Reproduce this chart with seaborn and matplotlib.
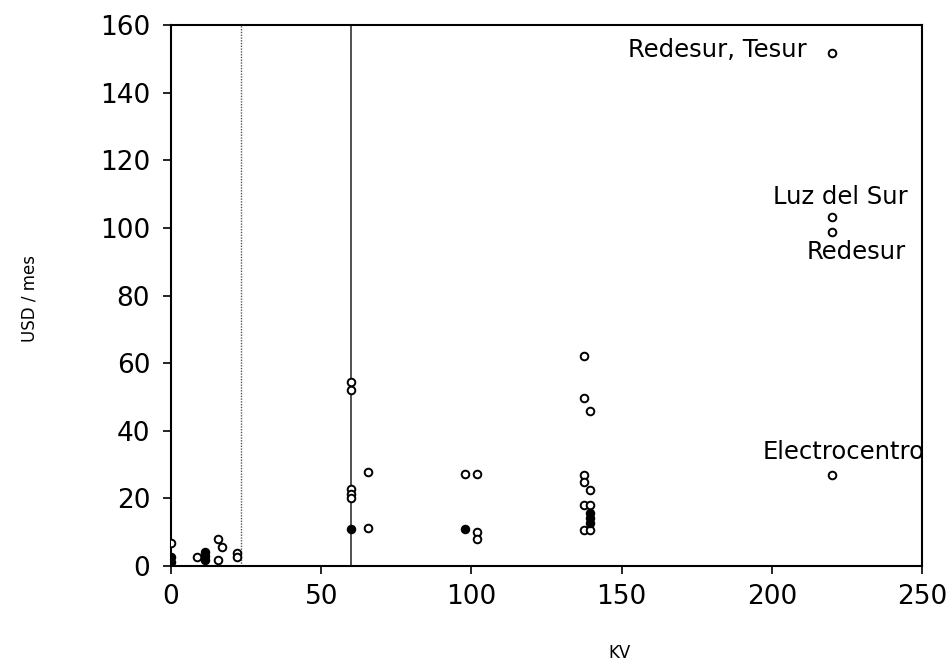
import pandas as pd
import matplotlib.pyplot as plt
import seaborn as sns

# puntos huecos (kV, USD/mes)
kv_hueco = [0, 8.7, 15.6, 15.6, 17, 22, 22,
            60, 60, 60, 60, 60, 65.5, 65.5,
            98, 102, 102, 102,
            137.5, 137.5, 139.5, 137.5, 137.5, 139.5, 137.5, 139.5, 137.5, 139.5,
            220, 220, 220, 220]
usd_hueco = [6.8, 2.7, 8.0, 1.8, 5.6, 3.8, 2.7,
             54.4, 52.1, 22.8, 21.2, 20.0, 27.8, 11.2,
             27.2, 27.2, 10.2, 8.0,
             62.2, 49.6, 45.9, 27.0, 24.7, 22.6, 18.1, 18.1, 10.6, 10.6,
             151.6, 103.3, 98.8, 27.0]

# puntos rellenos (superpuestos)
kv_lleno = [0, 0, 11.3, 11.3, 11.3, 60, 98, 139.5, 139.5, 139.5]
usd_lleno = [2.7, 1.2, 4.1, 3.0, 1.8, 10.8, 10.9, 15.8, 14.2, 12.6]

umbrales = [23.3, 60]

etiquetas = ["Redesur, Tesur", "Luz del Sur", "Redesur", "Electrocentro"]
etiq_kv = [211.5, 200.5, 211.5, 197]
etiq_usd = [152.5, 109.2, 92.8, 33.7]
etiq_ha = ["right", "left", "left", "left"]

df_h = pd.DataFrame({"KV": kv_hueco, "USD": usd_hueco})
df_l = pd.DataFrame({"KV": kv_lleno, "USD": usd_lleno})

sns.set_style("ticks")
plt.rcParams["font.family"] = ["DejaVu Sans"]
plt.rcParams["text.color"] = "black"
plt.rcParams["xtick.color"] = "black"
plt.rcParams["ytick.color"] = "black"

fig = plt.figure(figsize=(9.52, 6.62), dpi=100)
ax = fig.add_axes([171 / 952, 1 - 566 / 662, (922 - 171) / 952, (566 - 25) / 662])

ax.axvline(umbrales[0], color="#555555", linewidth=1.0, linestyle=(0, (1, 1)))
ax.axvline(umbrales[1], color="#222222", linewidth=1.1)

sns.scatterplot(data=df_h, x="KV", y="USD", ax=ax, marker="o", s=30,
                facecolor="white", edgecolor="black", linewidth=1.4, zorder=3)
sns.scatterplot(data=df_l, x="KV", y="USD", ax=ax, marker="o", s=34,
                color="black", edgecolor="black", linewidth=1.0, zorder=4)

for t, x, y, ha in zip(etiquetas, etiq_kv, etiq_usd, etiq_ha):
    ax.text(x, y, t, ha=ha, va="center", fontsize=17.5, color="black")

ax.set_xlim(0, 250)
ax.set_ylim(0, 160)
ax.set_xticks([0, 50, 100, 150, 200, 250])
ax.set_yticks([0, 20, 40, 60, 80, 100, 120, 140, 160])
ax.tick_params(axis="both", labelsize=19, length=6, width=1.2, direction="out",
               colors="black")
ax.tick_params(axis="x", pad=7)
ax.tick_params(axis="y", pad=9)
for s in ax.spines.values():
    s.set_linewidth(1.5)
    s.set_color("black")
ax.set_xlabel("")
ax.set_ylabel("")

fig.text(620 / 952, 1 - 653 / 662, "KV", ha="center", va="center", fontsize=12)
fig.text(29 / 952, 1 - 298 / 662, "USD / mes", ha="center", va="center",
         rotation=90, fontsize=12)

fig.savefig("out.png", dpi=100, facecolor="white")
